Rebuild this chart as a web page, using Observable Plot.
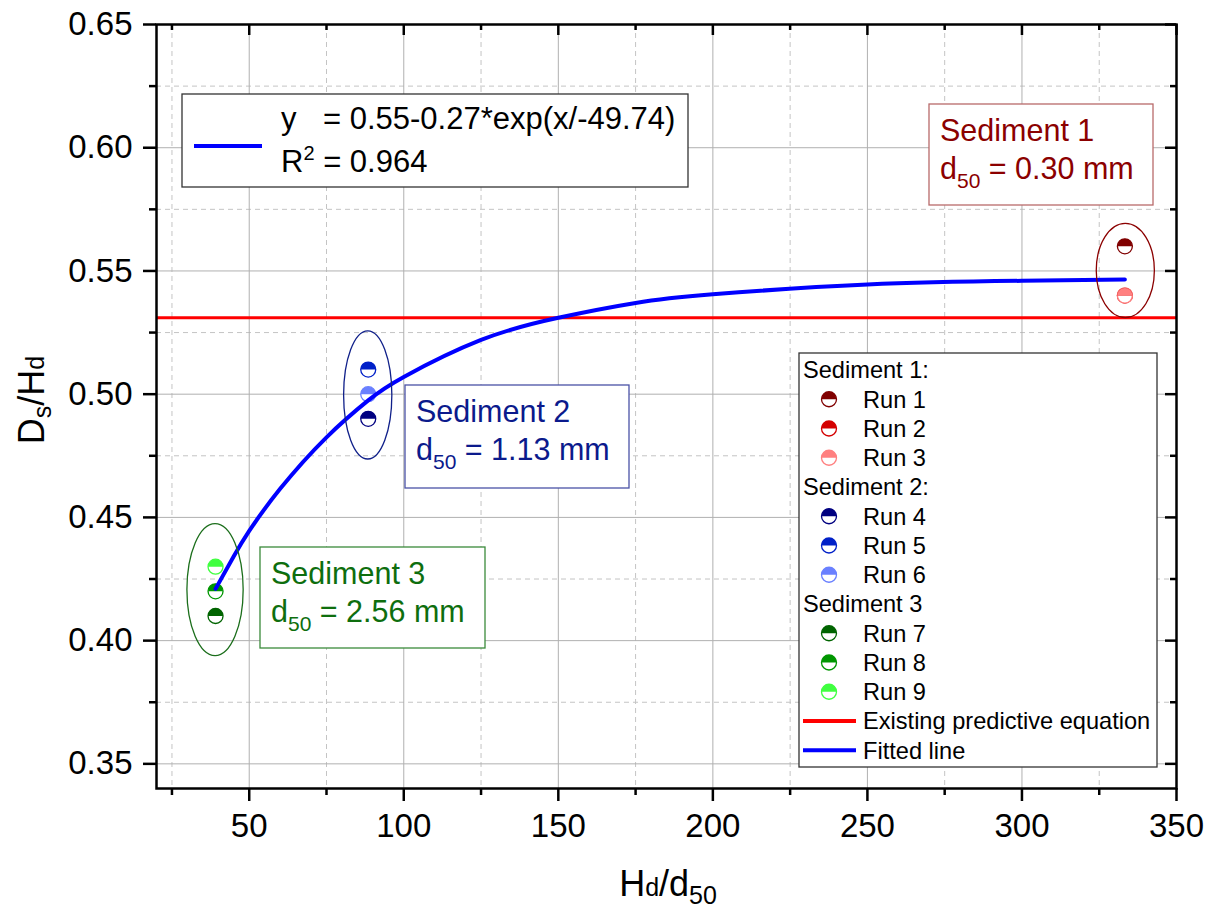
<!DOCTYPE html>
<html><head><meta charset="utf-8">
<script src="https://cdn.jsdelivr.net/npm/d3@7"></script>
<script src="https://cdn.jsdelivr.net/npm/@observablehq/plot@0.6"></script>
<style>
body{margin:0;background:#fff;}
#wrap{position:relative;width:1213px;height:911px;}
</style></head><body><div id="wrap"></div>
<script>
// ---------- data ----------
const runLabels = ["Run 1","Run 2","Run 3","Run 4","Run 5","Run 6","Run 7","Run 8","Run 9"];
const runSediment = [1,1,1,2,2,2,3,3,3];
const runX = [333.3,333.3,333.3,88.5,88.5,88.5,39.1,39.1,39.1];
const runY = [0.56,0.54,0.54,0.49,0.51,0.50,0.41,0.42,0.43];
const runColors = ["#800000","#D40000","#FF8080","#000080","#0020C8","#6A80FF","#006400","#009600","#40FF40"];

const sedimentNames = ["Sediment 1","Sediment 2","Sediment 3"];
const sedimentD50 = ["0.30","1.13","2.56"];
const sedimentTextColors = ["#8B0000","#0B1A8C","#0E6E0E"];
const sedimentBoxColors = ["#B86A6A","#4A52A6","#3B8A3B"];
const ellipseColors = ["#8B0000","#10208A","#1B6E1B"];
const ellipseCx = [333.6, 88.5, 39.1];
const ellipseCy = [0.550, 0.4995, 0.4205];
const ellipseRx = [9.4, 7.8, 9.1];
const ellipseRy = [0.0191, 0.026, 0.0268];

// fitted line
const fitX = [39.1, 45, 50, 60, 75, 88.5, 100, 125, 150, 175, 200, 250, 300, 333.3];
const fitY = [0.421, 0.4342, 0.4445, 0.4616, 0.4825, 0.4975, 0.507, 0.522, 0.531, 0.537, 0.5405, 0.5445, 0.546, 0.5465];
const existingY = 0.531;

const majorX = [50,100,150,200,250,300,350];
const minorX = [25,75,125,175,225,275,325];
const majorY = [0.35,0.40,0.45,0.50,0.55,0.60,0.65];
const minorY = [0.375,0.425,0.475,0.525,0.575,0.625];
const xDomain = [20, 350];
const yDomain = [0.34, 0.65];

const legendHeaders = ["Sediment 1:","Sediment 2:","Sediment 3"];
const equationText = "= 0.55-0.27*exp(x/-49.74)";
const r2Text = " = 0.964";

// ---------- layout ----------
const W = 1213, H = 911, ML = 156, MR = 37, MT = 24, MB = 123;
const FW = W - ML - MR, FH = H - MT - MB;
const FONT = "'Liberation Sans', Arial, sans-serif";

const runs = runLabels.map((label, i) => ({label, x: runX[i], y: runY[i], color: runColors[i], sed: runSediment[i]}));
const fit = fitX.map((x, i) => ({x, y: fitY[i]}));

const topHalf = {draw(ctx, size){ const r = Math.sqrt(size/Math.PI); ctx.moveTo(r,0); ctx.arc(0,0,r,0,Math.PI,true); ctx.closePath(); }};

const chart = Plot.plot({
  width: W, height: H, marginLeft: ML, marginRight: MR, marginTop: MT, marginBottom: MB,
  style: {fontFamily: FONT, color: "black", background: "white"},
  x: {domain: xDomain},
  y: {domain: yDomain},
  color: {type: "identity"},
  marks: [
    Plot.gridX(minorX, {stroke: "#c4c4c4", strokeOpacity: 1, strokeWidth: 1, strokeDasharray: "5,4"}),
    Plot.gridY(minorY, {stroke: "#c4c4c4", strokeOpacity: 1, strokeWidth: 1, strokeDasharray: "5,4"}),
    Plot.gridX(majorX, {stroke: "#b0b0b0", strokeOpacity: 1, strokeWidth: 1}),
    Plot.gridY(majorY, {stroke: "#b0b0b0", strokeOpacity: 1, strokeWidth: 1}),
    Plot.ruleY([existingY], {stroke: "#FF0000", strokeWidth: 3}),
    Plot.dot(runs, {x: "x", y: "y", r: 7.5, fill: "white", stroke: "color", strokeWidth: 1.3}),
    Plot.dot(runs, {x: "x", y: "y", r: 7.5, symbol: topHalf, fill: "color", stroke: "none"}),
    Plot.line(fit, {x: "x", y: "y", stroke: "#0000FF", strokeWidth: 4, curve: "natural"}),
    Plot.frame({stroke: "black", strokeWidth: 2.5}),
    Plot.axisX(majorX, {anchor: "bottom", tickSize: 13, tickPadding: 12, fontSize: 33, strokeWidth: 2.5, label: null, tickFormat: d => String(d)}),
    Plot.axisX(minorX, {anchor: "bottom", tickSize: 7, strokeWidth: 2.5, label: null, tickFormat: () => ""}),
    Plot.axisY(majorY, {anchor: "left", tickSize: 13, tickPadding: 11, fontSize: 33, strokeWidth: 2.5, label: null, tickFormat: d => d.toFixed(2)}),
    Plot.axisY(minorY, {anchor: "left", tickSize: 7, strokeWidth: 2.5, label: null, tickFormat: () => ""}),
    Plot.ruleX(majorX, {insetBottom: FH - 11, stroke: "black", strokeWidth: 2.5}),
    Plot.ruleX(minorX, {insetBottom: FH - 6, stroke: "black", strokeWidth: 2.5}),
    Plot.ruleY(majorY, {insetLeft: FW - 11, stroke: "black", strokeWidth: 2.5}),
    Plot.ruleY(minorY, {insetLeft: FW - 6, stroke: "black", strokeWidth: 2.5})
  ]
});
document.getElementById("wrap").appendChild(chart);

const sx = chart.scale("x"), sy = chart.scale("y");
const svg = d3.select(chart);
const g = svg.append("g").attr("font-family", FONT).attr("text-anchor", "start").attr("fill", "black");

// ellipses through the scales
const eg = g.append("g");
ellipseCx.forEach((cx, i) => {
  const px = sx.apply(cx), py = sy.apply(ellipseCy[i]);
  eg.append("ellipse").attr("cx", px).attr("cy", py)
    .attr("rx", Math.abs(sx.apply(cx + ellipseRx[i]) - px))
    .attr("ry", Math.abs(sy.apply(ellipseCy[i] + ellipseRy[i]) - py))
    .attr("fill", "none").attr("stroke", ellipseColors[i]).attr("stroke-width", 1.3);
});

// equation box
const eq = g.append("g");
eq.append("rect").attr("x", 182).attr("y", 94).attr("width", 506).attr("height", 93)
  .attr("fill", "white").attr("stroke", "#333").attr("stroke-width", 1.3);
eq.append("line").attr("x1", 194).attr("x2", 262).attr("y1", 146).attr("y2", 146)
  .attr("stroke", "#0000FF").attr("stroke-width", 4);
eq.append("text").attr("x", 281).attr("y", 129).attr("font-size", 31).text("y");
eq.append("text").attr("x", 323).attr("y", 129).attr("font-size", 31).text(equationText);
const r2 = eq.append("text").attr("x", 281).attr("y", 172).attr("font-size", 31);
r2.append("tspan").text("R");
r2.append("tspan").attr("dy", -12).attr("font-size", 20).text("2");
r2.append("tspan").attr("dy", 12).text(r2Text);

// sediment boxes
const boxes = [
  {x: 929, y: 104, w: 224, h: 101},
  {x: 405, y: 385, w: 224, h: 103},
  {x: 260, y: 547, w: 225, h: 101}
];
boxes.forEach((b, i) => {
  const bg = g.append("g");
  bg.append("rect").attr("x", b.x).attr("y", b.y).attr("width", b.w).attr("height", b.h)
    .attr("fill", "white").attr("stroke", sedimentBoxColors[i]).attr("stroke-width", 1.3);
  bg.append("text").attr("x", b.x + 11).attr("y", b.y + 37).attr("font-size", 30.5)
    .attr("fill", sedimentTextColors[i]).text(sedimentNames[i]);
  const t = bg.append("text").attr("x", b.x + 11).attr("y", b.y + 75).attr("font-size", 30.5)
    .attr("fill", sedimentTextColors[i]);
  t.append("tspan").text("d");
  t.append("tspan").attr("dy", 9).attr("font-size", 21).text("50");
  t.append("tspan").attr("dy", -9).text(" = " + sedimentD50[i] + " mm");
});

// legend
const lg = g.append("g").attr("transform", "translate(799,353)");
lg.append("rect").attr("width", 358).attr("height", 414).attr("fill", "white")
  .attr("stroke", "#333").attr("stroke-width", 1.3);
const items = [];
[1,2,3].forEach(s => {
  items.push({type: "header", label: legendHeaders[s-1]});
  runs.filter(d => d.sed === s).forEach(d => items.push({type: "run", label: d.label, color: d.color}));
});
items.push({type: "line", label: "Existing predictive equation", color: "#FF0000"});
items.push({type: "line", label: "Fitted line", color: "#0000FF"});
items.forEach((it, k) => {
  const cy = 17 + k * 29.25;
  if (it.type === "header") {
    lg.append("text").attr("x", 4).attr("y", cy).attr("dy", "0.35em").attr("font-size", 23.6).text(it.label);
  } else {
    if (it.type === "run") {
      const r = 7.5;
      lg.append("circle").attr("cx", 30).attr("cy", cy).attr("r", r).attr("fill", "white")
        .attr("stroke", it.color).attr("stroke-width", 1.3);
      lg.append("path").attr("d", `M${30 + r},${cy} A${r},${r} 0 0 0 ${30 - r},${cy} Z`).attr("fill", it.color);
    } else {
      lg.append("line").attr("x1", 4).attr("x2", 57).attr("y1", cy).attr("y2", cy)
        .attr("stroke", it.color).attr("stroke-width", 4);
    }
    lg.append("text").attr("x", 64).attr("y", cy).attr("dy", "0.35em").attr("font-size", 23.6).text(it.label);
  }
});

// axis titles
const yl = g.append("text").attr("transform", "translate(44,400) rotate(-90)")
  .attr("text-anchor", "middle").attr("font-size", 36);
yl.append("tspan").text("D");
yl.append("tspan").attr("dy", 7).attr("font-size", 25).text("s");
yl.append("tspan").attr("dy", -7).text("/H");
yl.append("tspan").attr("font-size", 25).text("d");

const xl = g.append("text").attr("x", 668).attr("y", 896)
  .attr("text-anchor", "middle").attr("font-size", 36);
xl.append("tspan").text("H");
xl.append("tspan").attr("font-size", 25).text("d");
xl.append("tspan").text("/d");
xl.append("tspan").attr("dy", 8).attr("font-size", 25).text("50");
</script>
</body></html>
